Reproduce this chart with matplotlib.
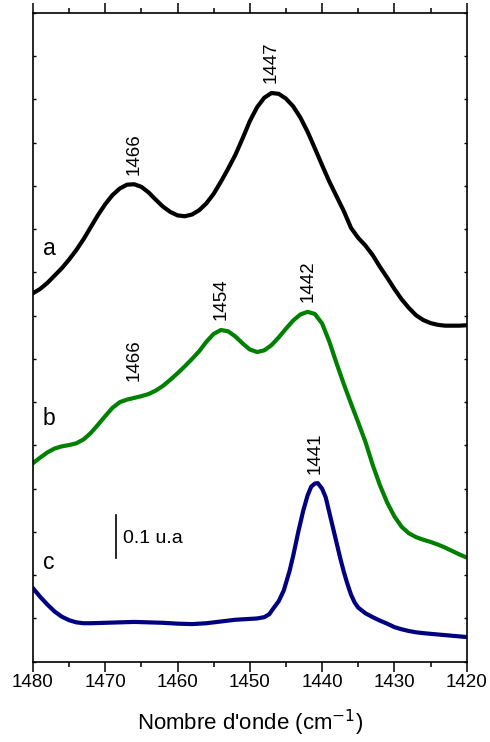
import numpy as np
import matplotlib
matplotlib.use("Agg")
import matplotlib.pyplot as plt

plt.rcParams['font.family'] = ['Liberation Sans', 'DejaVu Sans']

# ---- spectre a (noir) ----
wn_a = [1480, 1479, 1478, 1477, 1476, 1475, 1474, 1473, 1472, 1471,
        1470, 1469, 1468, 1467, 1466, 1465, 1464, 1463, 1462, 1461,
        1460, 1459, 1458, 1457, 1456, 1455, 1454, 1453, 1452, 1451,
        1450, 1449, 1448, 1447, 1446, 1445, 1444, 1443, 1442, 1441,
        1440, 1439, 1438, 1437, 1436, 1435, 1434, 1433, 1432, 1431,
        1430, 1429, 1428, 1427, 1426, 1425, 1424, 1423, 1422, 1421, 1420]
abs_a = [0.852, 0.862, 0.876, 0.893, 0.910, 0.930, 0.952, 0.977, 1.005, 1.033,
         1.058, 1.079, 1.094, 1.103, 1.104, 1.098, 1.085, 1.068, 1.052, 1.040,
         1.032, 1.030, 1.034, 1.044, 1.060, 1.082, 1.110, 1.140, 1.172, 1.210,
         1.250, 1.282, 1.304, 1.315, 1.313, 1.302, 1.284, 1.258, 1.225, 1.187,
         1.148, 1.110, 1.076, 1.042, 1.003, 0.980, 0.962, 0.940, 0.913, 0.888,
         0.862, 0.838, 0.818, 0.801, 0.790, 0.783, 0.779, 0.777, 0.777, 0.777, 0.778]

# ---- spectre b (vert) ----
wn_b = [1480, 1479, 1478, 1477, 1476, 1475, 1474, 1473, 1472, 1471,
        1470, 1469, 1468, 1467, 1466, 1465, 1464, 1463, 1462, 1461,
        1460, 1459, 1458, 1457, 1456, 1455, 1454, 1453, 1452, 1451,
        1450, 1449, 1448, 1447, 1446, 1445, 1444, 1443, 1442, 1441,
        1440, 1439, 1438, 1437, 1436, 1435, 1434, 1433, 1432, 1431,
        1430, 1429, 1428, 1427, 1426, 1425, 1424, 1423, 1422, 1421, 1420]
abs_b = [0.459, 0.472, 0.484, 0.493, 0.498, 0.501, 0.505, 0.514, 0.529, 0.548,
         0.568, 0.587, 0.600, 0.606, 0.610, 0.614, 0.619, 0.627, 0.638, 0.652,
         0.667, 0.683, 0.700, 0.718, 0.740, 0.758, 0.767, 0.764, 0.752, 0.736,
         0.722, 0.716, 0.720, 0.732, 0.750, 0.770, 0.789, 0.803, 0.809, 0.804,
         0.782, 0.740, 0.690, 0.642, 0.597, 0.553, 0.508, 0.455, 0.408, 0.368,
         0.336, 0.312, 0.297, 0.288, 0.282, 0.277, 0.271, 0.264, 0.256, 0.248, 0.241]

# ---- spectre c (bleu) ----
wn_c = [1480, 1479, 1478, 1477, 1476, 1475, 1474, 1473, 1472, 1470,
        1468, 1466, 1464, 1462, 1460, 1458, 1456, 1454, 1452, 1450,
        1449, 1448, 1447.3, 1446.8, 1446, 1445.3, 1444.5, 1444, 1443.3, 1442.6,
        1442, 1441.5, 1441, 1440.6, 1440, 1439.5, 1439, 1438.5, 1438, 1437.5,
        1437, 1436.5, 1436, 1435.5, 1435, 1434, 1433, 1432, 1431, 1430,
        1429, 1428, 1427, 1426, 1424, 1422, 1420]
abs_c = [0.170, 0.150, 0.132, 0.116, 0.104, 0.096, 0.091, 0.089, 0.089, 0.090,
         0.091, 0.092, 0.091, 0.090, 0.088, 0.087, 0.089, 0.093, 0.097, 0.099,
         0.100, 0.103, 0.110, 0.122, 0.140, 0.165, 0.210, 0.245, 0.300, 0.350,
         0.385, 0.405, 0.412, 0.413, 0.400, 0.380, 0.345, 0.310, 0.275, 0.240,
         0.208, 0.180, 0.155, 0.137, 0.125, 0.112, 0.103, 0.095, 0.088, 0.080,
         0.075, 0.071, 0.068, 0.066, 0.063, 0.060, 0.057]

# pics annotés
peaks_a = [1466, 1447]
peaks_b = [1466, 1454, 1442]
peaks_c = [1441]

fig = plt.figure(figsize=(4.9, 7.42), dpi=100)
ax = fig.add_axes([0.0673, 0.1082, 0.8851, 0.8743])

series = [(wn_a, abs_a, 'black', 'a', peaks_a),
          (wn_b, abs_b, '#008000', 'b', peaks_b),
          (wn_c, abs_c, '#000080', 'c', peaks_c)]

for wn, ab, col, lab, peaks in series:
    ax.plot(wn, ab, color=col, lw=3, solid_joinstyle='round')
    # lettre du spectre, à gauche au dessus de la courbe
    ax.annotate(lab, xy=(wn[0], ab[0]), xytext=(7, 24 if lab != 'c' else 10),
                textcoords='offset points', fontsize=16.5, ha='left', va='bottom')
    for p in peaks:
        y = np.interp(p, wn[::-1], ab[::-1])
        off = 12 if (lab == 'b' and p == 1466) else 7
        ax.annotate(str(p), xy=(p, y), xytext=(0, off), textcoords='offset points',
                    rotation=90, ha='center', va='bottom', fontsize=13.5)

# barre d'échelle 0.1 u.a
ax.plot([1468.5, 1468.5], [0.24, 0.34], color='black', lw=1.2)
ax.text(1467.5, 0.285, '0.1 u.a', fontsize=14, ha='left', va='center')

ax.set_xlim(1480, 1420)
ax.set_ylim(0, 1.5)
ax.set_xticks(np.arange(1480, 1419, -10))
ax.set_xticks(np.arange(1480, 1419, -5), minor=True)
ax.set_yticks(np.arange(0, 1.51, 0.1))
ax.tick_params(axis='x', which='major', direction='out', length=7, width=1.1,
               labelsize=13.5, pad=2)
ax.tick_params(axis='x', which='minor', direction='out', length=3.5, width=1.1)
ax.tick_params(axis='y', which='both', direction='in', length=2, width=1,
               labelleft=False, right=True)
ax.tick_params(axis='x', which='both', top=True)
for s in ax.spines.values():
    s.set_linewidth(1.2)

ax.set_xlabel("Nombre d'onde (cm$^{-1}$)", fontsize=16, labelpad=12)

fig.savefig('out.png', dpi=100)
